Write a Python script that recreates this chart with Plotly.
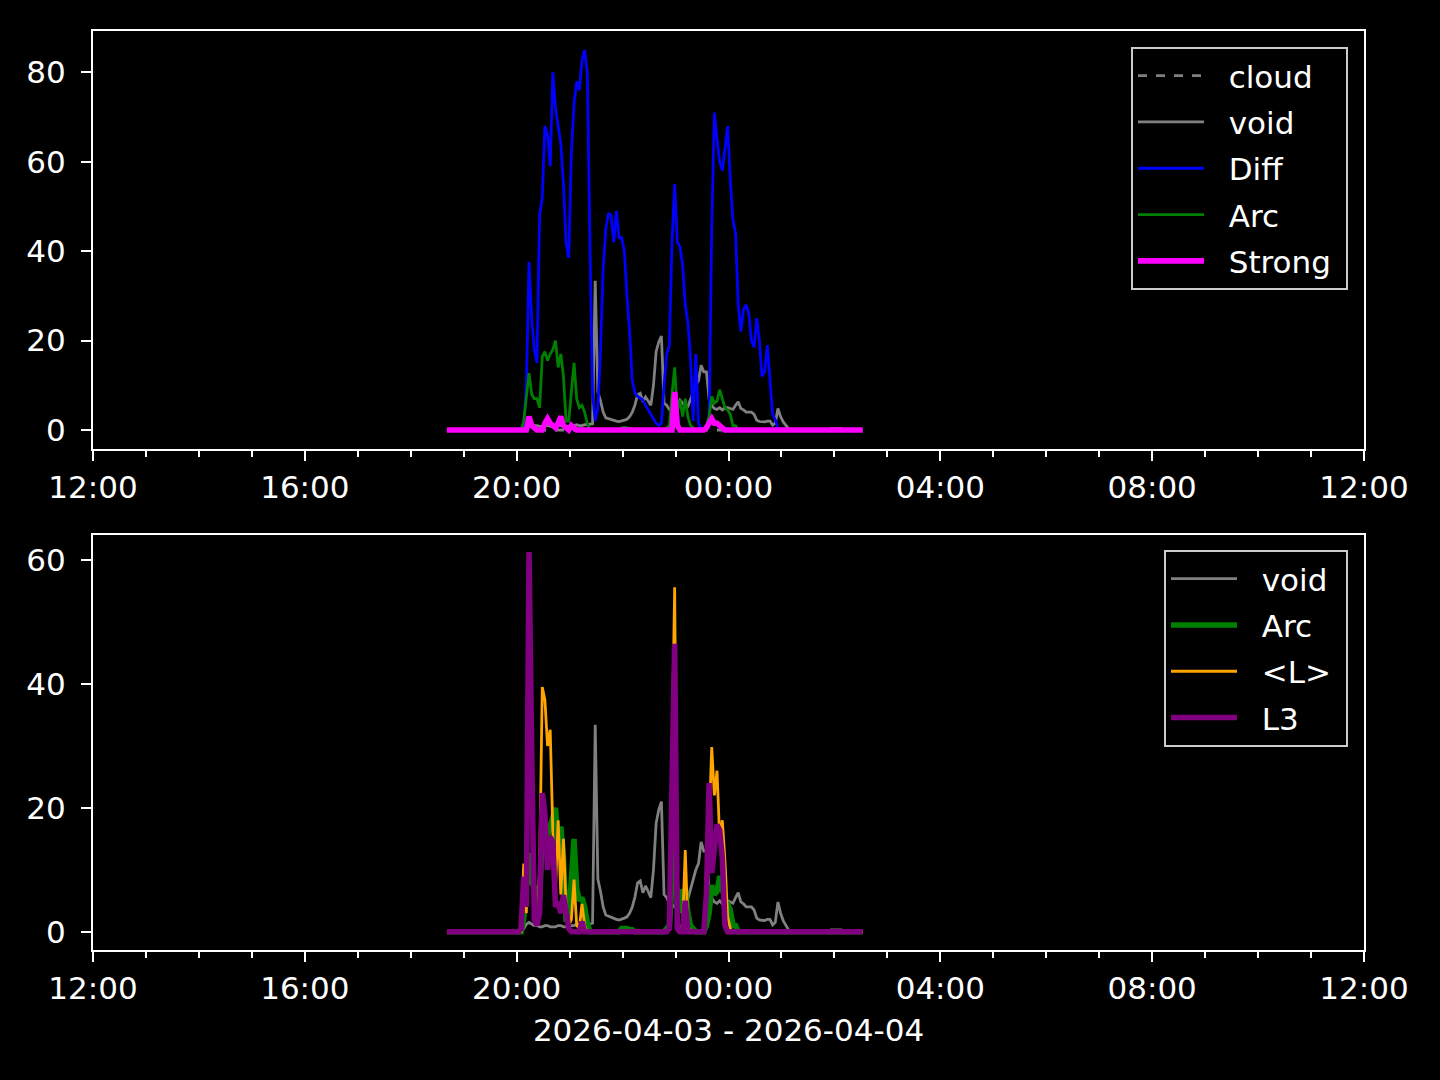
import pandas as pd
import plotly.graph_objects as go

# ---------------- data ----------------
start_time = "2026-04-03 18:41"
step = "3min"
n_points = 158
times = pd.date_range(start=start_time, periods=n_points, freq=step)

cloud = [0, 0, 0, 0, 0, 0, 0, 0, 0, 0, 0, 0, 0, 0, 0, 0, 0, 0, 0, 0,
         0, 0, 0, 0, 0, 0, 0, 0, 0, 0, 0, 0, 0, 0, 0, 0, 0, 0, 0, 0,
         0, 0, 0, 0, 0, 0, 0, 0, 0, 0, 0, 0, 0, 0, 0, 0, 0, 0, 0, 0,
         0, 0, 0, 0, 0, 0, 0, 0, 0, 0, 0, 0, 0, 0, 0, 0, 0, 0, 0, 0,
         0, 0, 0, 0, 0, 0, 0, 0, 0, 0, 0, 0, 0, 0, 0, 0, 0, 0, 0, 0,
         0, 0, 0, 0, 0, 0, 0, 0, 0, 0, 0, 0, 0, 0, 0, 0, 0, 0, 0, 0,
         0, 0, 0, 0, 0, 0, 0, 0, 0, 0, 0, 0, 0, 0, 0, 0, 0, 0, 0, 0,
         0, 0, 0, 0, 0, 0, 0, 0, 0, 0, 0, 0, 0, 0, 0, 0, 0, 0]

void = [0, 0, 0, 0, 0, 0, 0, 0, 0, 0, 0, 0, 0, 0, 0, 0, 0, 0, 0, 0,
        0, 0, 0, 0, 0, 0, 0, 0, 0, 0.5, 1.2, 1.5, 1.3, 1, 1, 0.8, 0.8, 1, 1, 0.8,
        0.8, 0.8, 1, 1, 0.8, 0.8, 0.8, 1, 1, 1.2, 1, 1, 1.2, 1.2, 1.3, 1.4, 33.4, 8.5, 6.5, 4,
        2.7, 2.5, 2.3, 2.2, 2, 1.9, 2, 2.2, 2.4, 3, 4, 5.6, 7.9, 8.2, 6.3, 7.4, 6.5, 5.5, 10, 17.5,
        19.7, 21, 6, 5.5, 4.6, 4.3, 4, 5.5, 6.7, 6, 5.3, 5.3, 7, 8.4, 10, 11, 14.5, 13, 13, 7,
        5.5, 4.8, 4.6, 5, 4.5, 5, 5, 4.8, 4.6, 5.5, 6.3, 4.8, 4.5, 4, 4, 4, 3.5, 2.2, 1.9, 1.9,
        1.8, 2, 2, 1.1, 1.5, 4.8, 3, 1.8, 1, 0.3, 0, 0, 0, 0, 0, 0, 0, 0, 0, 0,
        0, 0, 0, 0, 0, 0.3, 0.3, 0.3, 0.3, 0.3, 0, 0, 0, 0, 0, 0, 0, 0]

diff = [0, 0, 0, 0, 0, 0, 0, 0, 0, 0, 0, 0, 0, 0, 0, 0, 0, 0, 0, 0,
        0, 0, 0, 0, 0, 0, 0, 0, 0, 1, 10, 37.6, 25, 18, 15, 48, 52, 68, 66, 59,
        80, 72, 68, 64, 55, 42, 38.5, 62, 73, 78, 76, 82.7, 85, 80, 42, 8, 2, 5, 18, 36,
        45, 48.5, 48, 42, 49, 43, 43, 40, 30, 22, 11, 8.3, 7.5, 7, 6.7, 5.5, 4.5, 3.5, 2.2, 1.5,
        1, 1.5, 10, 17, 19, 42, 55, 42, 41, 37, 28, 24, 16, 2, 17, 1.5, 0.3, 0, 0.5, 2,
        45, 71, 65, 60, 58, 63, 68, 56, 47, 44, 28, 22, 27, 28, 26, 20, 18.5, 25, 20, 12,
        13, 19, 10, 3.5, 2.3, 0.5, 0, 0, 0, 0, 0, 0, 0, 0, 0, 0, 0, 0, 0, 0,
        0, 0, 0, 0, 0, 0, 0, 0, 0, 0, 0, 0, 0, 0, 0, 0, 0, 0]

arc = [0, 0, 0, 0, 0, 0, 0, 0, 0, 0, 0, 0, 0, 0, 0, 0, 0, 0, 0, 0,
       0, 0, 0, 0, 0, 0, 0, 0, 0, 2, 7, 12.7, 8, 7, 7, 5, 16.4, 17.5, 15.5, 17,
       18, 20, 14, 17, 12, 2, 2, 9, 15, 7, 5, 5.5, 4, 1.5, 0, 0, 0, 0, 0, 0,
       0, 0, 0, 0, 0, 0, 0.5, 0.6, 0.5, 0.3, 0.3, 0, 0, 0, 0, 0, 0, 0, 0, 0,
       0, 0, 0, 0.5, 1, 8, 14, 4, 6.8, 3, 7, 3, 1, 0.5, 0, 0, 0, 0, 1, 3,
       7.5, 6, 6.5, 9, 7, 5, 4.5, 3.5, 1, 1, 0, 0, 0, 0, 0, 0, 0, 0, 0, 0,
       0, 0, 0, 0, 0, 0, 0, 0, 0, 0, 0, 0, 0, 0, 0, 0, 0, 0, 0, 0,
       0, 0, 0, 0, 0, 0, 0, 0, 0, 0, 0, 0, 0, 0, 0, 0, 0, 0]

strong = [0, 0, 0, 0, 0, 0, 0, 0, 0, 0, 0, 0, 0, 0, 0, 0, 0, 0, 0, 0,
          0, 0, 0, 0, 0, 0, 0, 0, 0, 0, 0, 3, 1, 0.5, 0, 0, 0, 1.5, 2.5, 1.5,
          1, 0.5, 1.5, 3, 1, 0.5, 0, 1, 0.5, 0, 0, 0, 0, 0, 0, 0, 0, 0, 0, 0,
          0, 0, 0, 0, 0, 0, 0, 0, 0, 0, 0, 0, 0, 0, 0, 0, 0, 0, 0, 0,
          0, 0, 0, 0, 0, 0, 8.5, 1, 0, 0, 0, 0, 0, 0, 0, 0, 0, 0, 0.5, 1.5,
          2.5, 1.5, 1.5, 1, 0.5, 0, 0, 0, 0, 0, 0, 0, 0, 0, 0, 0, 0, 0, 0, 0,
          0, 0, 0, 0, 0, 0, 0, 0, 0, 0, 0, 0, 0, 0, 0, 0, 0, 0, 0, 0,
          0, 0, 0, 0, 0, 0, 0, 0, 0, 0, 0, 0, 0, 0, 0, 0, 0, 0]

l_mean = [0, 0, 0, 0, 0, 0, 0, 0, 0, 0, 0, 0, 0, 0, 0, 0, 0, 0, 0, 0,
          0, 0, 0, 0, 0, 0, 0, 0, 0, 11, 3, 45, 20, 2, 1, 10, 39.5, 37.4, 30, 32.6,
          16, 7, 18, 6, 15, 4, 1, 2, 8.4, 1, 0.5, 4.5, 1, 0, 0, 0, 0, 0, 0, 0,
          0, 0, 0, 0, 0, 0, 0, 0, 0, 0, 0, 0, 0, 0, 0, 0, 0, 0, 0, 0,
          0, 0, 0, 0, 1, 30, 55.6, 2, 0.5, 1, 13.2, 1, 0, 0, 0, 0, 0, 0, 5, 18,
          29.8, 22, 26, 15, 18, 11.5, 2.5, 0.5, 0, 0, 0, 0, 0, 0, 0, 0, 0, 0, 0, 0,
          0, 0, 0, 0, 0, 0, 0, 0, 0, 0, 0, 0, 0, 0, 0, 0, 0, 0, 0, 0,
          0, 0, 0, 0, 0, 0, 0, 0, 0, 0, 0, 0, 0, 0, 0, 0, 0, 0]

l3 = [0, 0, 0, 0, 0, 0, 0, 0, 0, 0, 0, 0, 0, 0, 0, 0, 0, 0, 0, 0,
      0, 0, 0, 0, 0, 0, 0, 0, 0.5, 8.9, 4, 61.3, 29, 2, 1, 3, 22.4, 19, 10, 15.3,
      14.5, 4, 4.8, 3, 5.9, 3, 0.5, 0, 0, 0, 0, 1.6, 0, 0, 0, 0, 0, 0, 0, 0,
      0, 0, 0, 0, 0, 0, 0, 0, 0, 0, 0, 0, 0, 0, 0, 0, 0, 0, 0, 0,
      0, 0, 0, 0, 0.5, 30, 46.5, 0.5, 0, 0, 5, 0, 0, 0, 0, 0, 0, 0, 6, 24,
      9.5, 14, 17.3, 16.4, 12, 1, 0, 0, 0, 0, 0, 0, 0, 0, 0, 0, 0, 0, 0, 0,
      0, 0, 0, 0, 0, 0, 0, 0, 0, 0, 0, 0, 0, 0, 0, 0, 0, 0, 0, 0,
      0, 0, 0, 0, 0, 0, 0, 0, 0, 0, 0, 0, 0, 0, 0, 0, 0, 0]

x_range = ["2026-04-03 12:00", "2026-04-04 12:00"]
x_tick0 = "2026-04-03 00:00"
x_label = "2026-04-03 - 2026-04-04"
top_yticks = [0, 20, 40, 60, 80]
bottom_yticks = [0, 20, 40, 60]

for name, arr in [("cloud", cloud), ("void", void), ("diff", diff), ("arc", arc),
                  ("strong", strong), ("l_mean", l_mean), ("l3", l3)]:
    assert len(arr) == n_points, (name, len(arr))

# ---------------- styles ----------------
FONT = "DejaVu Sans"
FS = 31
PT = 200 / 72.0  # px per point
GAP = "\u00a0\u00a0"
TAIL = "\u00a0"

fig = go.Figure()

top_series = [
    ("cloud", cloud, "#808080", 1.0, "dash"),
    ("void", void, "#808080", 1.0, "solid"),
    ("Diff", diff, "#0000ff", 1.0, "solid"),
    ("Arc", arc, "#008000", 1.0, "solid"),
    ("Strong", strong, "#ff00ff", 2.0, "solid"),
]
bottom_series = [
    ("void", void, "#808080", 1.0, "solid"),
    ("Arc", arc, "#008000", 2.0, "solid"),
    ("&lt;L&gt;", l_mean, "#ffa500", 1.0, "solid"),
    ("L3", l3, "#800080", 2.0, "solid"),
]

for k, (name, vals, color, lw, dash) in enumerate(top_series):
    fig.add_trace(go.Scatter(
        x=times, y=vals, mode="lines", name=GAP + name + TAIL,
        line=dict(color=color, width=lw * PT, dash=dash),
        xaxis="x", yaxis="y", legend="legend", legendgroup=f"t{k}",
    ))
for k, (name, vals, color, lw, dash) in enumerate(bottom_series):
    fig.add_trace(go.Scatter(
        x=times, y=vals, mode="lines", name=GAP + name + TAIL,
        line=dict(color=color, width=lw * PT, dash=dash),
        xaxis="x2", yaxis="y2", legend="legend2", legendgroup=f"b{k}",
    ))

W, H = 1440, 1080
ml, mr, mt, mb = 93, 76, 31, 130
ph = H - mt - mb


def fy(py):
    return (H - mb - py) / ph


axis_common = dict(
    showline=True, linecolor="white", linewidth=2, mirror=True,
    showgrid=False, zeroline=False,
    ticks="outside", ticklen=10, tickwidth=2, tickcolor="white",
    tickfont=dict(family=FONT, size=FS, color="white"),
)

xaxis_common = dict(
    axis_common, type="date", range=x_range, tick0=x_tick0,
    dtick=4 * 3600000, tickformat="%H:%M",
    minor=dict(dtick=3600000, ticks="outside", ticklen=6, tickwidth=2,
               tickcolor="white", showgrid=False),
)

legend_common = dict(
    xanchor="right", yanchor="top", x=(1348 - ml) / (W - ml - mr),
    bgcolor="rgba(0,0,0,0.8)", bordercolor="#cccccc", borderwidth=2,
    font=dict(family=FONT, size=FS, color="white"),
    traceorder="grouped", tracegroupgap=3, itemwidth=66,
)

fig.update_layout(
    width=W, height=H,
    paper_bgcolor="black", plot_bgcolor="black",
    margin=dict(l=ml, r=mr, t=mt, b=mb),
    font=dict(family=FONT, size=FS, color="white"),
    xaxis=dict(xaxis_common, anchor="y", domain=[0, 1]),
    yaxis=dict(axis_common, anchor="x", domain=[fy(449), fy(31)],
               range=[-4.25, 89.25], tickvals=top_yticks, ticklabelstandoff=9),
    xaxis2=dict(xaxis_common, anchor="y2", domain=[0, 1],
                title=dict(text=x_label, font=dict(family=FONT, size=FS, color="white"),
                           standoff=14)),
    yaxis2=dict(axis_common, anchor="x2", domain=[fy(950), fy(535)],
                range=[-2.95, 64.05], tickvals=bottom_yticks, ticklabelstandoff=9),
    legend=dict(legend_common, y=fy(47)),
    legend2=dict(legend_common, y=fy(550)),
    showlegend=True,
)

fig.write_html("out.html", config={"displayModeBar": False})

# remove the default page margin so the figure sits at the page origin
with open("out.html", "r", encoding="utf-8") as fh:
    page = fh.read()
page = page.replace("<head>", "<head><style>html,body{margin:0;padding:0;background:#000;}</style>", 1)
with open("out.html", "w", encoding="utf-8") as fh:
    fh.write(page)
